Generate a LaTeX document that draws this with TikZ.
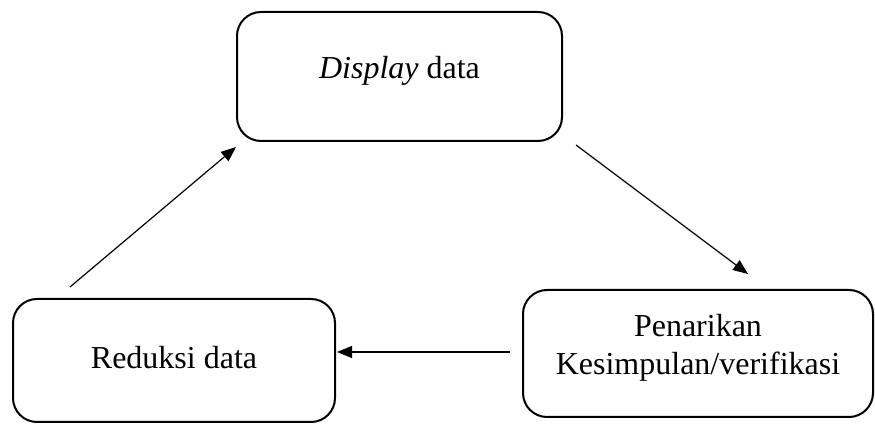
\documentclass[tikz,border=0pt]{standalone}
\usepackage{fontspec}
\setmainfont{Liberation Serif}
\usetikzlibrary{arrows.meta}
\begin{document}
\begin{tikzpicture}
        [box/.style={rectangle, rounded corners=12pt, draw, line width=1pt, align=center, font=\fontsize{16}{19}\selectfont},
        arr/.style={line width=0.6pt, -{Triangle[length=7.5pt,width=6pt]}}]
        \useasboundingbox (0,0) rectangle (437.5pt,-213.5pt);
        \node[box, minimum width=162.5pt, minimum height=64.5pt, text depth=9.5pt] (display) at (199.75pt,-38.25pt) {\textit{Display} data};
        \node[box, minimum width=161pt, minimum height=61.5pt, text depth=3pt] (reduksi) at (87pt,-180.25pt) {Reduksi data};
        \node[box, minimum width=175pt, minimum height=63.5pt, text depth=9pt] (kesimpulan) at (349pt,-176.75pt) {Penarikan\\Kesimpulan/verifikasi};
        
        \draw[arr] ([shift={(29pt,5.5pt)}]reduksi.north west) -- ([yshift=-2.5pt]display.south west);
        \draw[arr] ([shift={(6.5pt,-1.5pt)}]display.south east) -- ([shift={(25pt,7.5pt)}]kesimpulan.north);
        \draw[arr] ([shift={(-6pt,0pt)}]kesimpulan.west |- 0,-176pt) -- ([xshift=0.5pt]reduksi.east |- 0,-176pt);
    
    \end{tikzpicture}
\end{document}
